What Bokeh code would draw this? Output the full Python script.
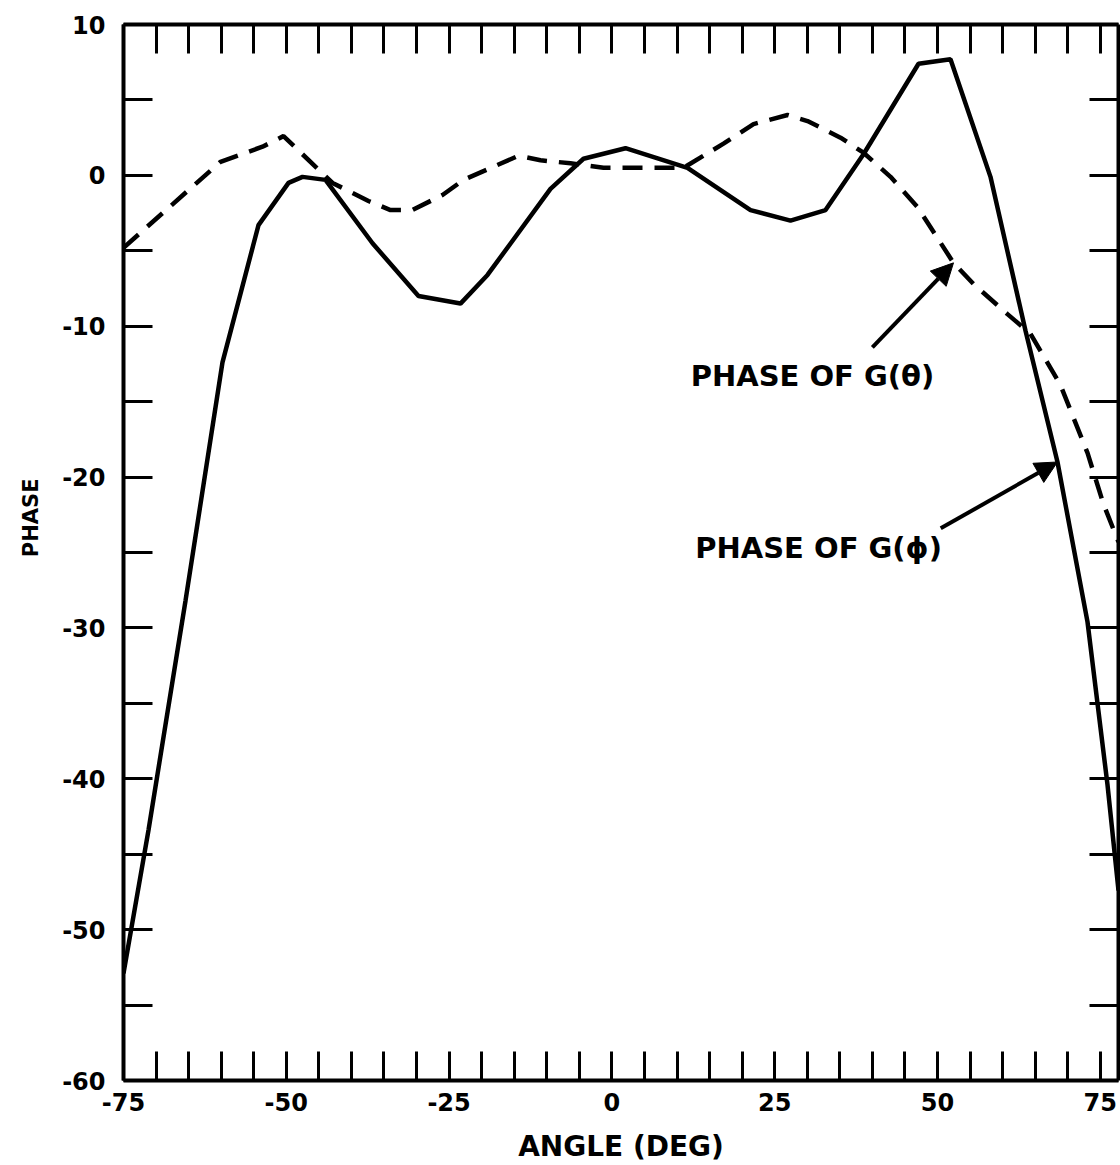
from bokeh.plotting import figure
from bokeh.models import LinearAxis, FixedTicker, Range1d, Arrow, NormalHead, Label, Title
from bokeh.embed import file_html
from bokeh.resources import INLINE

# ---------------- data ----------------
# PHASE OF G(theta)  -- dashed curve
angle_theta = [-75.0, -60.10, -53.65, -50.43, -42.90, -37.38, -34.00, -30.62, -26.01, -22.79,
               -14.34, -10.96, -6.36, -1.29, 4.86, 11.00, 17.14, 21.75, 26.97, 30.04,
               35.11, 38.64, 42.79, 46.93, 52.46, 55.53, 60.75, 64.29, 68.89, 73.04,
               75.50, 77.8]
phase_theta = [-4.8, 0.9, 1.9, 2.6, -0.5, -1.7, -2.3, -2.3, -1.3, -0.3,
               1.3, 1.0, 0.8, 0.5, 0.5, 0.5, 2.1, 3.4, 4.0, 3.6,
               2.5, 1.5, -0.1, -2.1, -5.8, -7.2, -9.2, -10.5, -13.9, -18.4,
               -21.8, -24.3]

# PHASE OF G(phi)  -- solid curve
angle_phi = [-75.0, -71.16, -65.48, -59.80, -54.27, -49.66, -47.51, -43.98, -36.76, -29.70,
             -23.25, -19.10, -9.43, -4.36, 2.09, 11.61, 21.29, 27.43, 32.81, 38.64,
             47.09, 52.00, 58.14, 63.52, 68.43, 73.04, 76.11, 77.8]
phase_phi = [-52.9, -43.4, -28.2, -12.4, -3.3, -0.5, -0.1, -0.3, -4.5, -8.0,
             -8.5, -6.6, -0.9, 1.1, 1.8, 0.5, -2.3, -3.0, -2.3, 1.4,
             7.4, 7.7, -0.1, -10.3, -19.0, -29.6, -40.4, -47.4]

x_tick_values = [-75, -50, -25, 0, 25, 50, 75]
x_tick_labels = ["-75", "-50", "-25", "0", "25", "50", "75"]
x_minor_ticks = [-70, -65, -60, -55, -45, -40, -35, -30, -20, -15, -10, -5,
                 5, 10, 15, 20, 30, 35, 40, 45, 55, 60, 65, 70]
y_tick_values = [-60, -50, -40, -30, -20, -10, 0, 10]
y_tick_labels = ["-60", "-50", "-40", "-30", "-20", "-10", "0", "10"]
y_minor_ticks = [-55, -45, -35, -25, -15, -5, 5]

x_title = "ANGLE (DEG)"
y_title = "PHASE"
label_theta = "PHASE  OF  G(\u03b8)"
label_phi = "PHASE  OF  G(\u03d5)"

# ---------------- styling ----------------
FONT = "DejaVu Sans"
INK = "black"
X_START, X_END = -75, 77.8   # the drawing runs a little past the 75 tick at its right edge
Y_START, Y_END = -60, 10

p = figure(frame_width=995, frame_height=1056,
           x_range=Range1d(X_START, X_END), y_range=Range1d(Y_START, Y_END),
           x_axis_location=None, y_axis_location=None,
           output_backend="svg", toolbar_location=None,
           min_border_left=123, min_border_right=2, min_border_top=24, min_border_bottom=60,
           background_fill_color="white", border_fill_color="white")
p.outline_line_color = None
p.xgrid.visible = False
p.ygrid.visible = False


def style_axis(ax, labels):
    ax.axis_line_width = 4
    ax.axis_line_color = INK
    ax.major_tick_in = 29
    ax.major_tick_out = 0
    ax.minor_tick_in = 29
    ax.minor_tick_out = 0
    ax.major_tick_line_width = 3
    ax.minor_tick_line_width = 3
    ax.major_tick_line_color = INK
    ax.minor_tick_line_color = INK
    if labels:
        ax.major_label_text_font = FONT
        ax.major_label_text_font_style = "bold"
        ax.major_label_text_font_size = "24px"
        ax.major_label_text_color = INK
    else:
        ax.major_label_text_font_size = "0px"
        ax.major_label_standoff = 0


xt = FixedTicker(ticks=x_tick_values, minor_ticks=x_minor_ticks)
yt = FixedTicker(ticks=y_tick_values, minor_ticks=y_minor_ticks)

bottom = LinearAxis(ticker=xt, major_label_overrides=dict(zip(x_tick_values, x_tick_labels)))
style_axis(bottom, True)
bottom.major_label_standoff = 12
bottom.axis_label = x_title
bottom.axis_label_text_font = FONT
bottom.axis_label_text_font_style = "bold"
bottom.axis_label_text_font_size = "28px"
bottom.axis_label_text_color = INK
bottom.axis_label_standoff = 16
p.add_layout(bottom, "below")

left = LinearAxis(ticker=yt, major_label_overrides=dict(zip(y_tick_values, y_tick_labels)))
style_axis(left, True)
left.major_label_standoff = 18
p.add_layout(left, "left")

top = LinearAxis(ticker=xt, major_label_overrides={v: "" for v in x_tick_values})
style_axis(top, False)
p.add_layout(top, "above")

right = LinearAxis(ticker=yt, major_label_overrides={v: "" for v in y_tick_values})
style_axis(right, False)
p.add_layout(right, "right")

# y-axis title: left of the frame, its upper end at about the -13 level, as drawn
p.add_layout(Title(text=y_title, align="right", offset=454, standoff=30,
                   vertical_align="top",
                   text_font=FONT, text_font_style="bold", text_font_size="21px",
                   text_color=INK), "left")

# curves
p.line(angle_theta, phase_theta, line_color=INK, line_width=4.5, line_dash="20 12")
p.line(angle_phi, phase_phi, line_color=INK, line_width=4.5)

# annotations: arrows end on a curve vertex
tip_theta = 24   # index in angle_theta / phase_theta
tip_phi = 24     # index in angle_phi / phase_phi
p.add_layout(Arrow(end=NormalHead(size=22, fill_color=INK, line_color=INK),
                   x_start=40.0, y_start=-11.4,
                   x_end=angle_theta[tip_theta], y_end=phase_theta[tip_theta],
                   line_width=4, line_color=INK))
p.add_layout(Arrow(end=NormalHead(size=22, fill_color=INK, line_color=INK),
                   x_start=50.5, y_start=-23.4,
                   x_end=angle_phi[tip_phi], y_end=phase_phi[tip_phi],
                   line_width=4, line_color=INK))

p.add_layout(Label(x=12.1, y=-13.3, text=label_theta, text_align="left", text_baseline="middle",
                   text_font=FONT, text_font_style="bold", text_font_size="29px", text_color=INK))
p.add_layout(Label(x=12.8, y=-24.7, text=label_phi, text_align="left", text_baseline="middle",
                   text_font=FONT, text_font_style="bold", text_font_size="29px", text_color=INK))

open("out.html", "w").write(file_html(p, INLINE))
